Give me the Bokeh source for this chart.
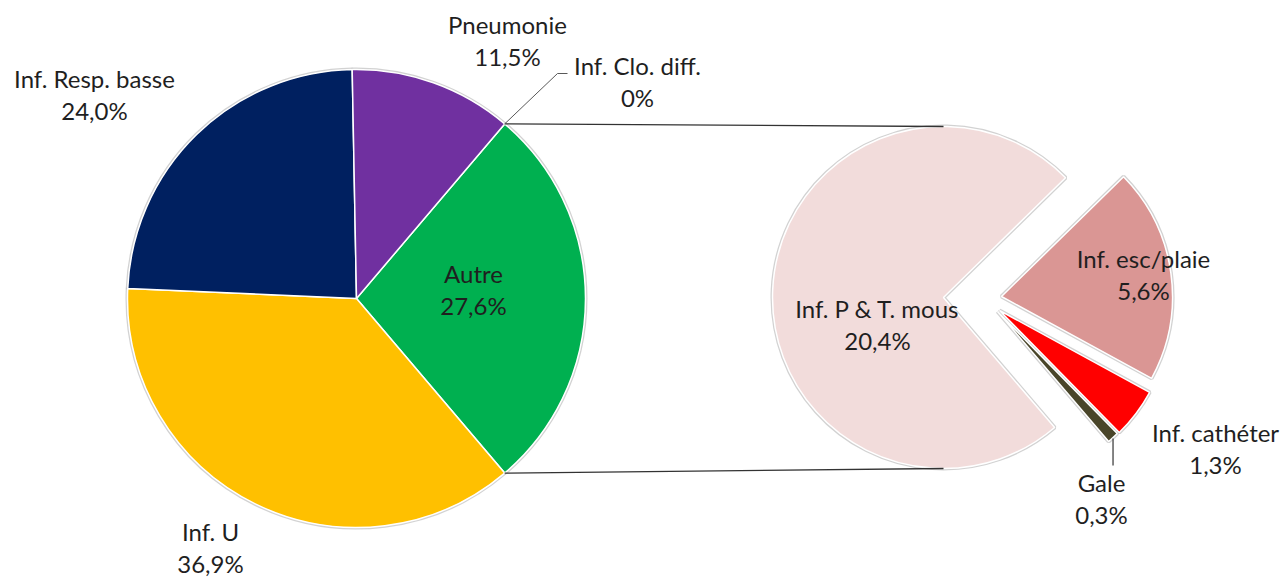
import math
from bokeh.plotting import figure
from bokeh.models import Range1d, ColumnDataSource
from bokeh.embed import file_html
from bokeh.resources import INLINE
from bokeh.core.properties import value

# ---------------- data ----------------
main_labels = ["Autre", "Inf. U", "Inf. Resp. basse", "Pneumonie", "Inf. Clo. diff."]
main_values = [27.6, 36.9, 24.0, 11.5, 0.0]
main_colors = ["#00B050", "#FFC000", "#002060", "#7030A0", "#4F81BD"]

sub_labels = ["Inf. esc/plaie", "Inf. cathéter", "Gale", "Inf. P & T. mous"]
sub_values = [5.6, 1.3, 0.3, 20.4]
sub_colors = ["#DA9694", "#FF0000", "#494529", "#F2DCDB"]

# ---------------- layout (image pixel coords) ----------------
W, H = 1285, 577
C1 = (356.0, 298.0); R1 = 229.0          # main pie
C2 = (943.0, 297.0); R2 = 171.0          # secondary pie
SUB_CENTER_CW = 92.5                     # centre angle of the small slices group
explode = {"Inf. esc/plaie": (58, -1), "Inf. cathéter": (56, 13), "Gale": (54, 14),
           "Inf. P & T. mous": (0, 0)}
main_label_pos = {"Autre": (473, 273), "Inf. U": (210, 531), "Inf. Resp. basse": (94, 78),
                  "Pneumonie": (507, 24), "Inf. Clo. diff.": (637, 65)}
sub_label_pos = {"Inf. esc/plaie": (1143, 258), "Inf. cathéter": (1215, 432),
                 "Gale": (1101, 482), "Inf. P & T. mous": (877, 308)}
LINE_GAP = 32
FONT = "Lato"
FSIZE = "24px"
TXT = "#1F1F1F"


def fmt(v):
    return "0%" if v == 0 else ("%.1f" % v).replace(".", ",") + "%"


def pt(c, r, cw_deg):
    a = math.radians(cw_deg)
    return (c[0] + r * math.sin(a), c[1] - r * math.cos(a))


p = figure(width=W, height=H, output_backend="svg", toolbar_location=None,
           x_range=Range1d(0, W), y_range=Range1d(-H, 0),
           x_axis_type=None, y_axis_type=None, min_border=0)
p.grid.visible = False
p.outline_line_color = None
p.background_fill_color = "white"
p.border_fill_color = "white"

# ---------- main pie ----------
total = sum(main_values)
autre_span = main_values[0] / total * 360.0
cw = 90.0 - autre_span / 2.0
m = dict(x=[], y=[], s=[], e=[], c=[])
main_ranges = {}
for lab, v, col in zip(main_labels, main_values, main_colors):
    span = v / total * 360.0
    a0, a1 = cw, cw + span
    main_ranges[lab] = (a0, a1)
    cw = a1
    if v <= 0:
        continue
    m["x"].append(C1[0]); m["y"].append(-C1[1])
    m["s"].append(math.radians(90 - a1)); m["e"].append(math.radians(90 - a0))
    m["c"].append(col)
ms = ColumnDataSource(m)
p.wedge(x="x", y="y", radius=R1, start_angle="s", end_angle="e", source=ms,
        fill_color=None, line_color="#BFBFBF", line_width=4, line_alpha=0.7)
p.wedge(x="x", y="y", radius=R1, start_angle="s", end_angle="e", source=ms,
        fill_color="c", line_color="white", line_width=1.5)

# ---------- secondary pie ----------
stotal = sum(sub_values)
small_span = sum(sub_values[:-1]) / stotal * 360.0
cw = SUB_CENTER_CW - small_span / 2.0
s = dict(x=[], y=[], s=[], e=[], c=[])
sub_ranges = {}
for lab, v, col in zip(sub_labels, sub_values, sub_colors):
    span = v / stotal * 360.0
    a0, a1 = cw, cw + span
    sub_ranges[lab] = (a0, a1)
    cw = a1
    dx, dy = explode[lab]
    s["x"].append(C2[0] + dx); s["y"].append(-(C2[1] + dy))
    s["s"].append(math.radians(90 - a1)); s["e"].append(math.radians(90 - a0))
    s["c"].append(col)
ss = ColumnDataSource(s)
p.wedge(x="x", y="y", radius=R2, start_angle="s", end_angle="e", source=ss,
        fill_color=None, line_color="#BFBFBF", line_width=4, line_alpha=0.7)
p.wedge(x="x", y="y", radius=R2, start_angle="s", end_angle="e", source=ss,
        fill_color="c", line_color="white", line_width=1.5)

# ---------- connector lines ----------
a0, a1 = main_ranges["Autre"]
t1 = pt(C1, R1, a0); b1 = pt(C1, R1, a1)
p.line([t1[0], C2[0]], [-t1[1], -(C2[1] - R2)], line_color="#333333", line_width=1.3)
p.line([b1[0], C2[0]], [-b1[1], -(C2[1] + R2)], line_color="#333333", line_width=1.3)

# leader for Inf. Clo. diff.
ca0, ca1 = main_ranges["Inf. Clo. diff."]
lp = pt(C1, R1, ca0)
lx, ly = main_label_pos["Inf. Clo. diff."]
p.line([lp[0], lx - 80, lx - 70], [-lp[1], -(ly + 8), -(ly + 8)],
       line_color="#595959", line_width=1)

# leader for Gale
ga0, ga1 = sub_ranges["Gale"]
gdx, gdy = explode["Gale"]
gp = pt((C2[0] + gdx, C2[1] + gdy), R2, (ga0 + ga1) / 2)
gx, gy = sub_label_pos["Gale"]
p.line([gp[0], gp[0]], [-(gp[1] + 1), -(gy - 17)], line_color="#333333", line_width=1.2)

# ---------- labels ----------
names, xs, ys = [], [], []
for lab, v in zip(main_labels, main_values):
    x, y = main_label_pos[lab]
    names += [lab, fmt(v)]; xs += [x, x]; ys += [-y, -(y + LINE_GAP)]
for lab, v in zip(sub_labels, sub_values):
    x, y = sub_label_pos[lab]
    names += [lab, fmt(v)]; xs += [x, x]; ys += [-y, -(y + LINE_GAP)]
ls = ColumnDataSource(dict(x=xs, y=ys, t=names))
p.text(x="x", y="y", text="t", source=ls, text_font=value(FONT), text_font_size=FSIZE,
       text_color=TXT, text_align="center", text_baseline="middle")

open("out.html", "w").write(file_html(p, INLINE))
